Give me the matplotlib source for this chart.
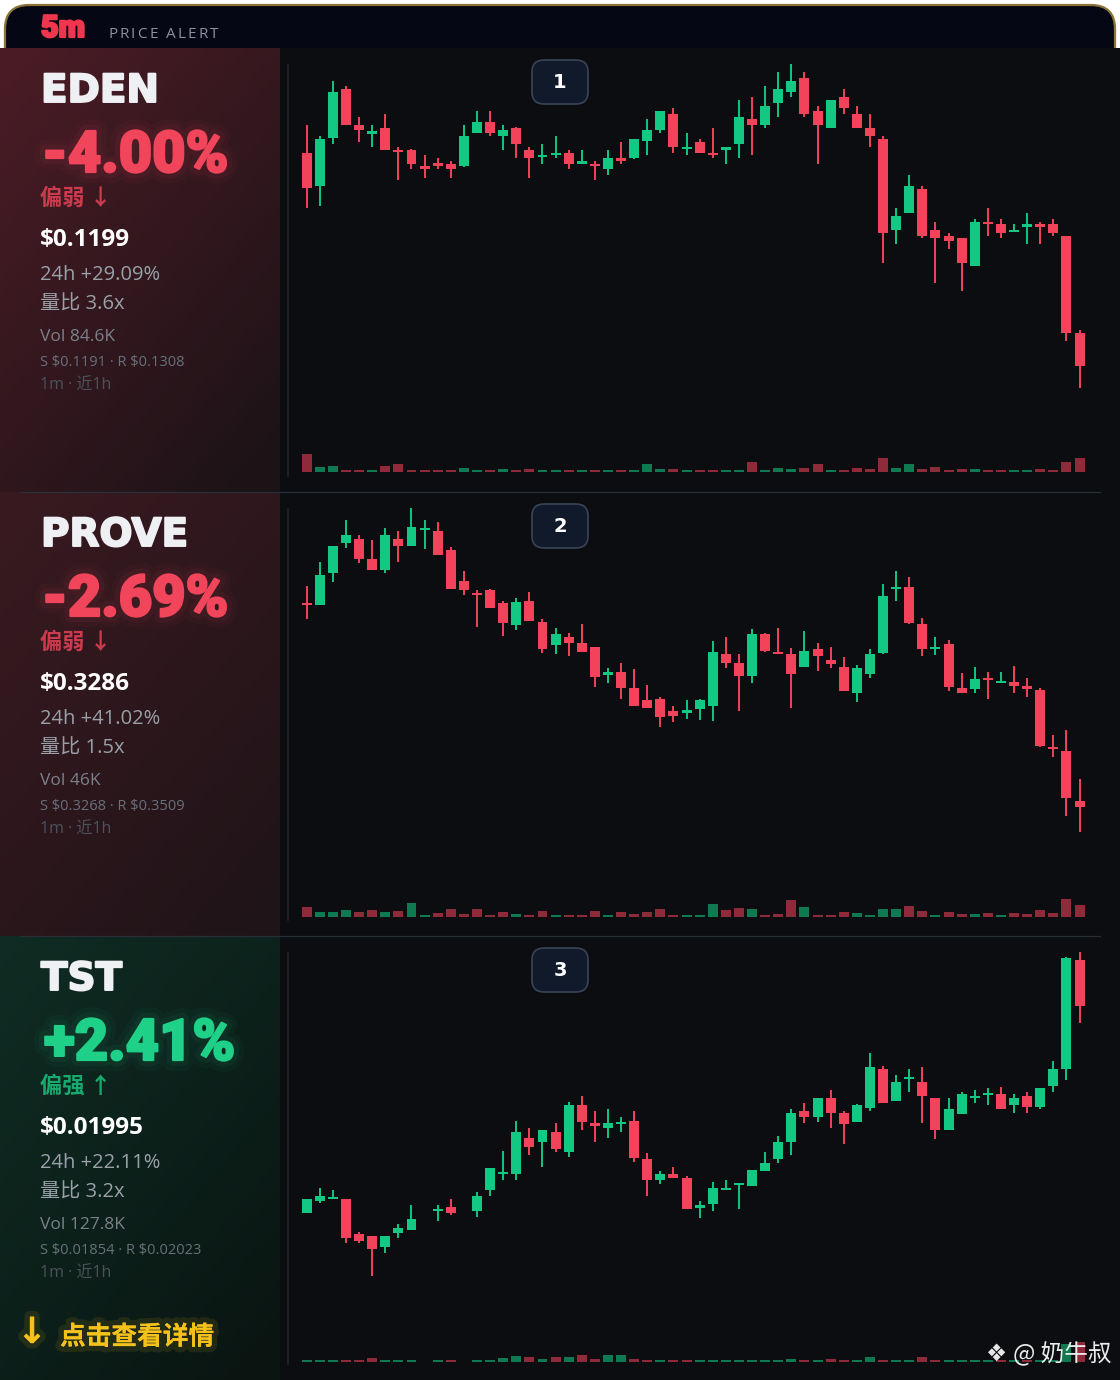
import numpy as np
import matplotlib
matplotlib.use('Agg')
import matplotlib.pyplot as plt
from matplotlib.patches import FancyBboxPatch, Rectangle
import matplotlib.patheffects as pe

nan = np.nan

# ---------------- data (relative price levels) ----------------
eden_open = [347,314,362,411,375,366,372,350,350,334,337,336,334,367,378,364,372,350,343,345,
             347,336,336,331,342,342,359,370,386,351,358,347,350,356,381,375,397,408,422,389,
             372,403,386,372,361,270,287,311,270,264,262,234,278,276,268,273,276,276,264,167]
eden_high = [375,364,419,414,383,375,386,353,351,345,342,339,375,389,389,375,373,353,356,364,
             350,350,339,350,358,361,381,389,392,367,361,372,353,400,403,414,428,436,428,394,
             400,411,394,386,364,292,325,314,278,267,262,281,292,281,276,287,278,281,264,170]
eden_low = [292,294,356,375,358,353,350,320,331,322,331,322,333,367,364,350,342,322,336,342,
            331,336,320,325,336,341,345,367,347,345,347,342,336,342,345,372,383,403,383,336,
            372,386,372,353,237,256,287,262,217,251,209,234,264,262,268,256,256,264,159,112]
eden_close = [312,361,408,375,370,369,350,348,336,331,334,331,364,378,367,370,356,342,345,347,
              336,339,334,342,339,361,370,389,353,353,347,345,353,383,375,394,411,419,386,375,
              400,392,372,364,267,284,314,264,262,259,237,278,276,267,270,276,273,267,167,134]
eden_vol = [17.7,4.3,6,1.7,1,1.3,5.3,7.7,0.7,1.3,1.7,2,3.3,1.7,2,2.3,0.7,3,0.7,0.7,
            0.7,1.3,0.7,1.3,1.3,0.7,7.3,3,2.7,1.3,1.3,0.7,0.7,1.3,9.3,2,4,2.7,3.3,8,
            1.3,2,4,2.3,13.3,3.3,7.3,2.7,5,0.7,2.3,2.3,0.7,0.7,0.7,1,2.3,0.7,10,13.3]

prove_open = [342,340,372,402,406,386,375,406,399,415,414,395,364,352,355,342,320,344,323,300,
              308,302,298,270,273,257,245,246,234,232,236,239,291,282,269,311,293,291,278,296,
              285,278,252,271,292,356,358,321,296,301,257,256,267,262,263,259,255,198,194,144]
prove_high = [359,383,399,425,410,405,417,414,437,425,423,398,374,355,356,344,347,353,326,317,
              312,321,298,277,282,276,260,248,239,245,246,304,308,291,316,312,317,297,314,302,
              298,288,280,296,361,374,368,327,308,305,272,278,273,273,279,267,257,210,215,166]
prove_low = [326,340,363,397,382,375,372,383,399,396,390,356,350,318,337,309,315,324,292,291,
             289,293,258,262,246,239,237,218,223,226,225,224,277,234,262,293,291,237,278,274,
             277,254,243,267,291,344,321,289,290,254,252,252,246,262,252,248,198,188,129,113]
prove_close = [340,370,399,410,386,375,410,399,418,416,390,356,355,350,337,322,343,324,296,311,
               302,293,268,273,257,239,237,228,229,235,245,293,282,269,311,294,291,271,294,289,
               281,254,277,291,349,358,322,296,298,258,252,266,265,263,259,256,199,196,147,138]
prove_vol = [9.3,4.7,5,6.7,4.7,6.7,4.7,6,14,1.3,3.3,7.7,2.7,7.7,1.7,4.7,2.7,1.3,6,1,
             0.7,0.7,6,1,4.3,2.7,4.7,8,0.7,0.7,0.7,12.7,6.7,8.7,7.7,1.7,2.7,16.7,9.3,1.7,
             0.7,4.3,3.3,2,8,7.3,11,5.3,1.3,4.3,2.7,2.7,3.3,1,3.7,2.7,7,3.7,17.7,11.7]

tst_open = [177,189,191,191,156,154,143,157,160,nan,179,183,nan,179,200,216,216,252,248,258,
            238,285,267,262,266,269,231,210,216,212,182,186,200,205,204,219,231,248,279,273,
            292,277,268,282,321,289,311,308,292,260,276,292,295,296,285,294,283,304,321,430]
tst_high = [191,202,200,191,158,154,154,166,185,nan,185,191,nan,198,222,239,269,262,260,267,
            288,294,279,281,273,279,237,219,223,214,189,208,210,206,220,238,254,281,287,292,
            300,279,286,337,324,315,321,323,292,292,298,300,302,303,296,298,302,329,433,438]
tst_low = [177,187,191,147,147,114,137,152,160,nan,169,175,nan,173,194,210,210,235,223,238,
           233,260,248,252,258,228,194,206,212,181,172,179,200,181,204,219,227,235,267,268,
           262,246,268,279,287,289,298,267,251,260,276,287,285,281,277,277,281,298,310,367]
tst_close = [191,194,192,152,149,141,154,162,171,nan,181,177,nan,194,222,218,258,243,260,241,
             285,268,264,267,267,232,210,216,212,181,185,202,202,206,220,227,248,277,273,292,
             277,266,285,323,287,308,313,294,260,281,296,294,296,281,292,283,302,321,432,384]
tst_vol = [0.5,0.5,0.5,1.7,0.7,3.3,0.5,0.5,0.5,nan,0.5,0.5,nan,0.5,0.7,3.7,5.7,4.3,3,5,
           4.3,6.3,2.3,7,6.3,3,1,0.5,0.7,1.7,0.5,0.7,0.5,0.5,0.5,0.5,0.7,3,0.5,0.5,
           2.3,0.7,0.5,4.3,0.7,0.5,0.5,5,0.7,0.5,0.5,0.5,0.5,0.5,0.5,0.5,0.5,0.5,18,20]

symbols = ["EDEN", "PROVE", "TST"]
pct_labels = ["-4.00%", "-2.69%", "+2.41%"]
bias_labels = ["偏弱 ↓", "偏弱 ↓", "偏强 ↑"]
prices = ["$0.1199", "$0.3286", "$0.01995"]
chg24 = ["24h +29.09%", "24h +41.02%", "24h +22.11%"]
vol_ratio = ["量比 3.6x", "量比 1.5x", "量比 3.2x"]
vol_text = ["Vol 84.6K", "Vol 46K", "Vol 127.8K"]
sr_text = ["S $0.1191 · R $0.1308", "S $0.3268 · R $0.3509", "S $0.01854 · R $0.02023"]
ranks = ["1", "2", "3"]

series = [
    (eden_open, eden_high, eden_low, eden_close, eden_vol),
    (prove_open, prove_high, prove_low, prove_close, prove_vol),
    (tst_open, tst_high, tst_low, tst_close, tst_vol),
]

# ---------------- style ----------------
GREEN = '#12c882'
RED = '#f2435b'
GREEN_V = '#0f7a52'
RED_V = '#8f2a3b'
CHART_BG = '#0b0d10'
VOL_BASE = 28.5
CJK = ['Noto Sans CJK SC', 'DejaVu Sans']
LATIN_CJK = ['Open Sans', 'Noto Sans CJK SC', 'DejaVu Sans']
HEAVY = ['Roboto', 'DejaVu Sans']
WIDE = ['DejaVu Sans']
LIGHT = ['Open Sans', 'DejaVu Sans']


def esc(s):
    return s.replace('$', r'\$')


def heavy_fx(col, glow=False, w=1.6):
    fx = []
    if glow:
        fx += [pe.withStroke(linewidth=16, foreground=col, alpha=0.04),
               pe.withStroke(linewidth=9, foreground=col, alpha=0.06)]
    fx += [pe.withStroke(linewidth=w, foreground=col), pe.Normal()]
    return fx


W, H = 1120, 1380
fig = plt.figure(figsize=(W / 100, H / 100), dpi=100, facecolor='white')
bg = fig.add_axes([0, 0, 1, 1])
bg.set_xlim(0, W)
bg.set_ylim(H, 0)
bg.axis('off')

# outer frame / header
frame = FancyBboxPatch((5, 5), 1110, 1500, boxstyle='round,pad=0,rounding_size=24',
                       fc='#050814', ec='#8a7438', lw=1.6, zorder=0)
bg.add_patch(frame)
bg.add_patch(Rectangle((280, 48), 840, 1332, fc=CHART_BG, ec='none', zorder=1))

grad_cols = [('#4c1c26', '#1c1317'), ('#3a1a21', '#1f1418'), ('#0f2d24', '#0a1512')]
PANEL_H = 444
for k in range(3):
    y0 = 48 + PANEL_H * k
    y1 = y0 + PANEL_H
    if k == 2:
        y1 = H
    c1 = np.array(matplotlib.colors.to_rgb(grad_cols[k][0]))
    c2 = np.array(matplotlib.colors.to_rgb(grad_cols[k][1]))
    yy, xx = np.mgrid[0:1:200j, 0:1:120j]
    t = np.clip(0.45 * xx + 0.6 * yy, 0, 1)[..., None]
    img = c1 * (1 - t) + c2 * t
    bg.imshow(img, extent=(0, 280, y1, y0), aspect='auto', zorder=1, interpolation='bilinear')

# separators
for ys in (492, 936):
    bg.plot([20, 1100], [ys, ys], color='#2a2e35', lw=0.9, zorder=2)
for k in range(3):
    off = PANEL_H * k
    bg.plot([288, 288], [65 + off, 476 + off], color='#20242a', lw=1.2, zorder=2)

renderer = fig.canvas.get_renderer()


def tracked(ax, x, y, s, spacing, space_w, **kw):
    for ch in s:
        if ch == ' ':
            x += space_w
            continue
        t = ax.text(x, y, ch, **kw)
        bb = t.get_window_extent(renderer=renderer)
        x += bb.width + spacing


# header
bg.text(41, 37, "5m", color='#f0364f', fontsize=22, fontweight='black', family=HEAVY, zorder=5,
        path_effects=heavy_fx('#f0364f'))
tracked(bg, 108, 38, "PRICE ALERT", 2.2, 6, color='#8b91a0', fontsize=11, family=LIGHT, zorder=5)

# left info texts
for k in range(3):
    off = PANEL_H * k
    up = pct_labels[k].startswith('+')
    pcol = '#1fd088' if up else '#f0455a'
    bcol = '#17a96d' if up else '#c93b4d'
    bg.text(41, 102 + off, symbols[k], color='#eef0f4', fontsize=28, fontweight='bold',
            family=WIDE, zorder=5, path_effects=heavy_fx('#eef0f4', w=1.4))
    bg.text(42 if not up else 44, 172 + off, pct_labels[k], color=pcol, fontsize=41.5,
            fontweight='black', family=HEAVY, zorder=5, path_effects=heavy_fx(pcol, glow=True))
    bg.text(40, 205 + off, bias_labels[k], color=bcol, fontsize=16, fontweight='bold',
            family=CJK, zorder=5)
    bg.text(40, 246 + off, esc(prices[k]), color='#ffffff', fontsize=17.5, fontweight='bold',
            family=LIGHT, zorder=5)
    bg.text(40, 280 + off, chg24[k], color='#9aa0a8', fontsize=14.5, family=LIGHT, zorder=5)
    bg.text(40, 310 + off, vol_ratio[k], color='#9aa0a8', fontsize=14.5, family=LATIN_CJK, zorder=5)
    bg.text(40, 341 + off, vol_text[k], color='#7b818a', fontsize=12.5, family=LIGHT, zorder=5)
    bg.text(40, 366 + off, esc(sr_text[k]), color='#687079', fontsize=10.5, family=LIGHT, zorder=5)
    bg.text(40, 390 + off, "1m · 近1h", color='#4c525a', fontsize=11.5, family=LATIN_CJK, zorder=5)
    # rank badge
    badge = FancyBboxPatch((532, 60 + off), 56, 44, boxstyle='round,pad=0,rounding_size=12',
                           fc='#111a2b', ec='#3a4458', lw=1.2, zorder=6)
    bg.add_patch(badge)
    bg.text(560, 82 + off, ranks[k], color='white', fontsize=14, fontweight='bold',
            ha='center', va='center', family=['DejaVu Sans'], zorder=7)

# call to action
glow_y = [pe.withStroke(linewidth=8, foreground='#f5c21b', alpha=0.10), pe.Normal()]
bg.text(32, 1333, "↓", color='#f5c21b', fontsize=26, fontweight='bold', ha='center', va='center',
        family=['DejaVu Sans'], zorder=5, path_effects=glow_y)
bg.text(60, 1337, "点击查看详情", color='#f5c21b', fontsize=18.5, fontweight='bold', va='center',
        family=CJK, zorder=5, path_effects=glow_y)

bg.set_xlim(0, W)
bg.set_ylim(H, 0)


# ---------------- candlestick panels ----------------
def px_axes(x0, y0, x1, y1):
    return fig.add_axes([x0 / W, 1 - y1 / H, (x1 - x0) / W, (y1 - y0) / H])


def draw_candles(ax, o, h, l, c, v):
    o, h, l, c, v = (np.array(a, float) for a in (o, h, l, c, v))
    x = np.arange(len(o))
    ok = ~np.isnan(o)
    up = c >= o
    col = np.where(up, GREEN, RED)
    vcol = np.where(up, GREEN_V, RED_V)
    ax.vlines(x[ok], l[ok], h[ok], colors=col[ok], lw=1.4, zorder=3)
    bottom = np.minimum(o, c)
    height = np.maximum(np.abs(c - o), 2.0)
    ax.bar(x[ok], height[ok], bottom=bottom[ok], width=0.76, color=col[ok], lw=0, zorder=4)
    ax.bar(x[ok], np.maximum(v[ok], 1.8), bottom=VOL_BASE, width=0.76, color=vcol[ok], lw=0, zorder=2)


for k in range(3):
    off = 445 * k
    ax = px_axes(290, 55 + off, 1095, 480 + off)
    ax.set_facecolor('none')
    draw_candles(ax, *series[k])
    ax.set_xlim(-1.275, 60.18)
    ax.set_ylim(20, 445)
    ax.axis('off')

# watermark
wm = fig.add_axes([0, 0, 1, 1])
wm.set_xlim(0, W)
wm.set_ylim(H, 0)
wm.axis('off')
wm.patch.set_alpha(0)
wm.text(996, 1354, "❖", color='#e6e6e6', fontsize=17, ha='center', va='center', family=['DejaVu Sans'])
wm.text(1013, 1354, "@ 奶牛叔", color='#ececec', fontsize=17, va='center', family=CJK)

fig.savefig('out.png', dpi=100, facecolor='white')
